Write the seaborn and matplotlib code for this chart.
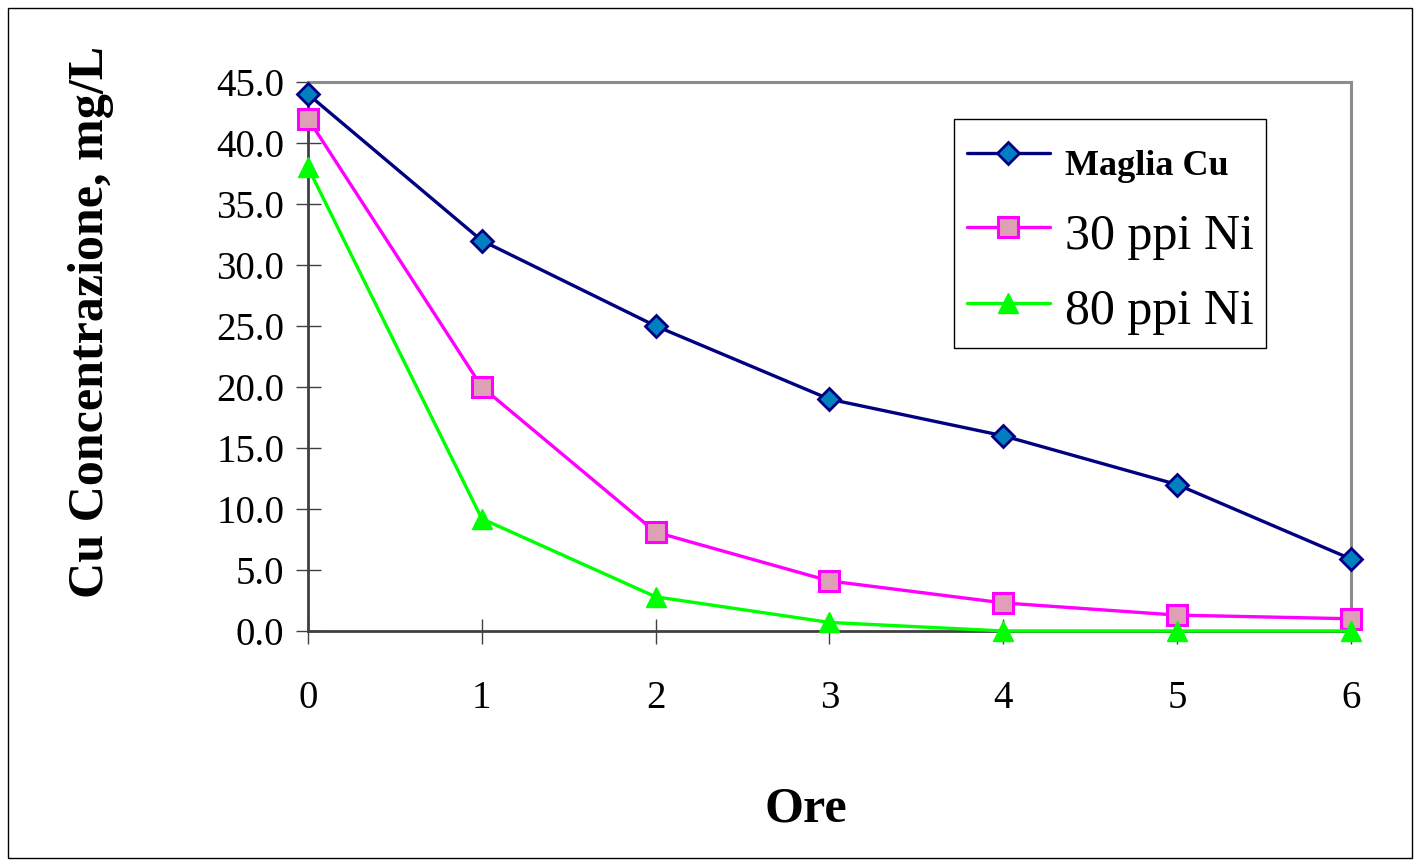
import matplotlib
matplotlib.use("Agg")
import matplotlib.pyplot as plt
import seaborn as sns
import pandas as pd
from matplotlib.patches import Rectangle

# dati
ore = [0, 1, 2, 3, 4, 5, 6]
maglia_cu = [44.0, 32.0, 25.0, 19.0, 16.0, 12.0, 5.9]
ppi30_ni = [42.0, 20.0, 8.1, 4.1, 2.3, 1.3, 1.0]
ppi80_ni = [38.0, 9.2, 2.8, 0.7, 0.0, 0.0, 0.0]

labels = ["Maglia Cu", "30 ppi Ni", "80 ppi Ni"]
y_ticks = [0, 5, 10, 15, 20, 25, 30, 35, 40, 45]

sns.set_theme(style="white")
plt.rcParams["font.family"] = ["Liberation Serif", "DejaVu Serif"]
plt.rcParams["text.color"] = "black"
plt.rcParams["axes.labelcolor"] = "black"
plt.rcParams["xtick.color"] = "black"
plt.rcParams["ytick.color"] = "black"

fig = plt.figure(figsize=(14.2, 8.66), dpi=100)
ax = fig.add_axes([0.2169, 0.2714, 0.7345, 0.6339])

series = [
    (maglia_cu, dict(color="#000080", marker="D", markersize=11, markerfacecolor="#0080C0", markeredgecolor="#000080", markeredgewidth=2)),
    (ppi30_ni, dict(color="#FF00FF", marker="s", markersize=14, markerfacecolor="#DDA0B4", markeredgecolor="#FF00FF", markeredgewidth=2.2)),
    (ppi80_ni, dict(color="#00FF00", marker="^", markersize=15, markerfacecolor="#00FF00", markeredgecolor="#00FF00", markeredgewidth=1)),
]

for (vals, st), lab in zip(series, labels):
    df = pd.DataFrame({"Ore": ore, "Cu": vals})
    sns.lineplot(data=df, x="Ore", y="Cu", ax=ax, label=lab, linewidth=2.4,
                 clip_on=False, zorder=3, **st)

ax.set_xlim(0, 6)
ax.set_ylim(0, 45)
ax.set_xticks(ore)
ax.set_yticks(y_ticks)
ax.set_yticklabels([f"{v:.1f}" for v in y_ticks])
ax.tick_params(axis="x", bottom=True, direction="inout", length=18, width=1, color="#404040",
               pad=26, labelsize=28, labelcolor="black")
ax.tick_params(axis="y", left=True, direction="inout", length=18, width=1, color="#404040",
               pad=8, labelsize=28, labelcolor="black")

for side in ["left", "bottom"]:
    ax.spines[side].set_color("#404040")
    ax.spines[side].set_linewidth(2)
for side in ["top", "right"]:
    ax.spines[side].set_color("#8C8C8C")
    ax.spines[side].set_linewidth(2.2)

ax.set_xlabel("Ore", fontsize=36, fontweight="bold", color="black")
ax.xaxis.set_label_coords(0.4775, -0.325)
ax.set_ylabel("Cu Concentrazione, mg/L", fontsize=36, fontweight="bold", color="black")
ax.yaxis.set_label_coords(-0.208, 0.563)
ax.yaxis.label.set_va("center")
ax.xaxis.label.set_va("center")

leg = ax.legend(loc="upper right", bbox_to_anchor=(0.9185, 0.932), fontsize=36,
                frameon=True, fancybox=False, edgecolor="black", framealpha=1,
                handlelength=1.66, handleheight=1.25, handletextpad=0.3, borderpad=0.25,
                labelspacing=0.42, borderaxespad=0)
leg.get_frame().set_linewidth(1)
leg.get_texts()[0].set_fontweight("bold")
leg.get_texts()[0].set_fontsize(26)

fig.patches.append(Rectangle((8 / 1420, 8 / 866), 1404 / 1420, 850 / 866, transform=fig.transFigure,
                             fill=False, edgecolor="black", linewidth=1))

fig.savefig("out.png", dpi=100)
